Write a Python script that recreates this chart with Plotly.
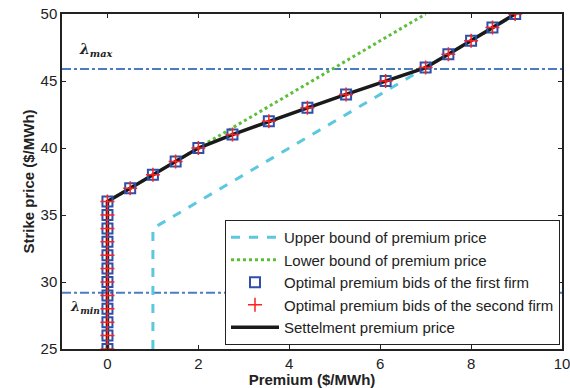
import plotly.graph_objects as go

# Data
bid_premium = [0, 0, 0, 0, 0, 0, 0, 0, 0, 0, 0, 0,
               0.5, 1.0, 1.5, 2.0, 2.75, 3.55, 4.4, 5.25, 6.12, 7.0, 7.5, 8.0, 8.47, 8.97]
bid_strike = [25, 26, 27, 28, 29, 30, 31, 32, 33, 34, 35, 36,
              37, 38, 39, 40, 41, 42, 43, 44, 45, 46, 47, 48, 49, 50]
upper_x = [1, 1, 9]
upper_y = [25, 34, 50]
lower_x = [0, 0, 7]
lower_y = [25, 36, 50]
lambda_max = 45.9
lambda_min = 29.2

FONT = "Liberation Sans, Arial"

fig = go.Figure()
fig.add_trace(go.Scatter(x=[-1, 10], y=[lambda_max, lambda_max], mode="lines",
                         line=dict(color="#4a7cc4", width=2, dash="dashdot"),
                         showlegend=False, hoverinfo="skip"))
fig.add_trace(go.Scatter(x=[-1, 10], y=[lambda_min, lambda_min], mode="lines",
                         line=dict(color="#4a7cc4", width=2, dash="dashdot"),
                         showlegend=False, hoverinfo="skip"))
fig.add_trace(go.Scatter(x=upper_x, y=upper_y, mode="lines", name="Upper bound of premium price",
                         line=dict(color="#5cc8e0", width=3, dash="dash")))
fig.add_trace(go.Scatter(x=lower_x, y=lower_y, mode="lines", name="Lower bound of premium price",
                         line=dict(color="#5cbf3a", width=3, dash="dot")))
fig.add_trace(go.Scatter(x=bid_premium, y=bid_strike, mode="lines", name="Settelment premium price",
                         line=dict(color="#1a1a1a", width=3.5), showlegend=False))
fig.add_trace(go.Scatter(x=bid_premium, y=bid_strike, mode="markers",
                         name="Optimal premium bids of the first firm",
                         marker=dict(symbol="square-open", size=10, color="#2f4fa8",
                                     line=dict(width=2, color="#2f4fa8"))))
fig.add_trace(go.Scatter(x=bid_premium, y=bid_strike, mode="markers",
                         name="Optimal premium bids of the second firm",
                         marker=dict(symbol="cross-thin-open", size=10, color="#ff2020",
                                     line=dict(width=1.5, color="#ff2020"))))
fig.add_trace(go.Scatter(x=[None], y=[None], mode="lines", name="Settelment premium price",
                         line=dict(color="#1a1a1a", width=3.5)))

fig.add_annotation(x=-0.25, y=47.3, text="<b><i>λ</i></b><sub><b><i>max</i></b></sub>",
                   showarrow=False, font=dict(family="DejaVu Serif", size=14, color="#222"))
fig.add_annotation(x=-0.5, y=28.1, text="<b><i>λ</i></b><sub><b><i>min</i></b></sub>",
                   showarrow=False, font=dict(family="DejaVu Serif", size=13, color="#222"))

axis_common = dict(showline=True, linecolor="#222", linewidth=1.5, mirror="ticks",
                   ticks="inside", ticklen=4, tickcolor="#222", showgrid=False, zeroline=False,
                   automargin=False, ticklabeloverflow="allow",
                   tickfont=dict(family=FONT, size=15, color="#222"))
fig.update_xaxes(range=[-1, 10], tickvals=[0, 2, 4, 6, 8, 10],
                 title=dict(text="<b>Premium ($/MWh)</b>", standoff=4,
                            font=dict(family=FONT, size=15, color="#222")),
                 **axis_common)
fig.update_yaxes(range=[25, 50], tickvals=[25, 30, 35, 40, 45, 50],
                 title=dict(text="<b>Strike price ($/MWh)</b>", standoff=2,
                            font=dict(family=FONT, size=15, color="#222")),
                 **axis_common)
fig.update_layout(width=570, height=388, margin=dict(l=62, r=8, t=14, b=39),
                  plot_bgcolor="white", paper_bgcolor="white",
                  legend=dict(x=0.996, y=0.012, xanchor="right", yanchor="bottom",
                              bgcolor="white", bordercolor="#222", borderwidth=1,
                              font=dict(family=FONT, size=15, color="#222"),
                              tracegroupgap=0, itemwidth=48))
fig.write_html("out.html")
